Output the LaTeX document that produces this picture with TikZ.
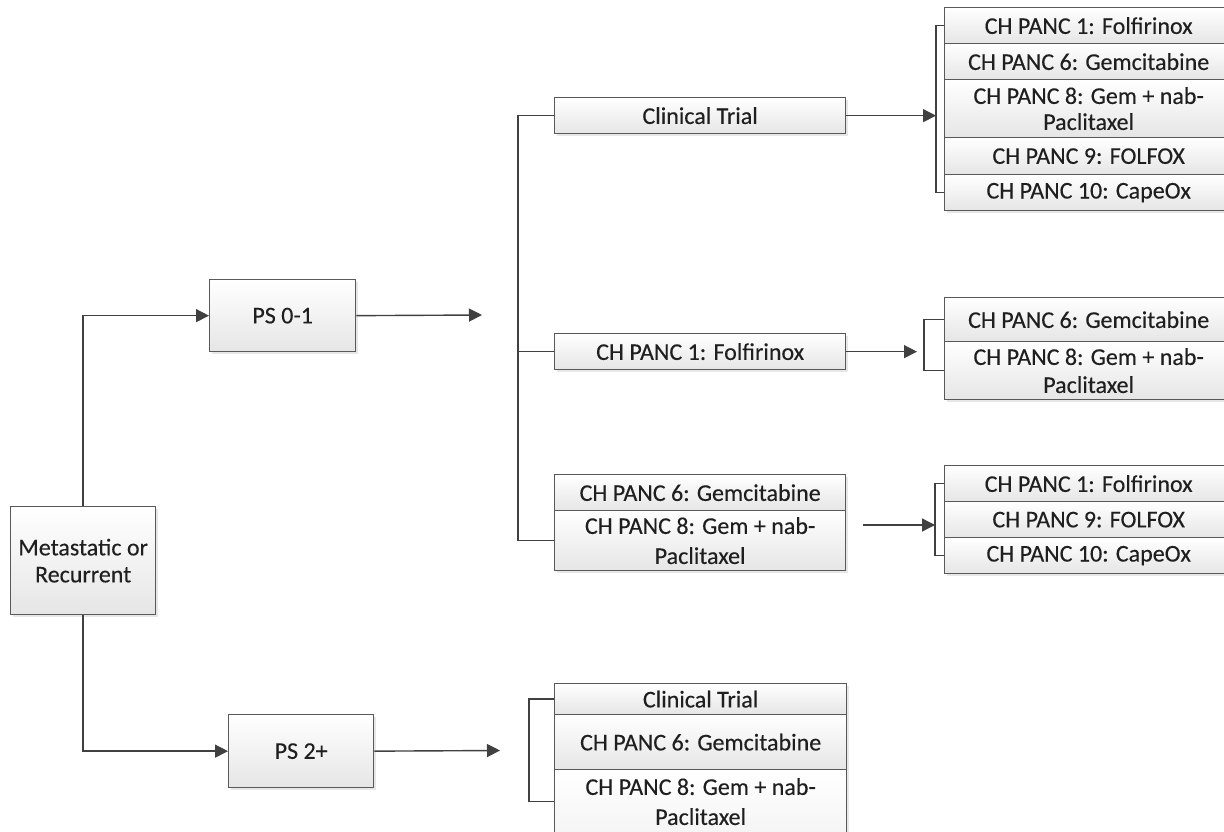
\documentclass[tikz,border=0pt]{standalone}
\usepackage{fontspec}
\setmainfont{Carlito}[FakeBold=0.25]
\usetikzlibrary{arrows.meta,shadows}
\definecolor{linec}{HTML}{404040}
\definecolor{boxc}{HTML}{595959}
\definecolor{txtc}{HTML}{1f1f1f}
\begin{document}
\begin{tikzpicture}[x=1pt,y=-1pt,
  box/.style={draw=boxc, line width=1.3pt, top color=white, bottom color=black!10,
    drop shadow={shadow xshift=2pt, shadow yshift=-2pt, fill=black!18},
    anchor=north west, inner sep=0pt, align=center, text=txtc,
    font=\fontsize{24}{27}\selectfont},
  conn/.style={draw=linec, line width=1.4pt},
  arr/.style={conn, -{Triangle[length=13pt,width=13pt]}}]
\useasboundingbox (0,0) rectangle (1224,832);
\fill[white] (0,0) rectangle (1224,832);

% left
\node[box, minimum width=145pt, minimum height=108pt] (meta) at (10,506) {Metastatic or\\[0pt]Recurrent};
\node[box, minimum width=146pt, minimum height=72pt] (ps01) at (209,279) {PS 0-1};
\node[box, minimum width=145pt, minimum height=73pt] (ps2) at (228,714) {PS 2+};

% middle column
\node[box, minimum width=291pt, minimum height=36pt] (ct) at (554,97) {Clinical Trial};
\node[box, minimum width=291pt, minimum height=36pt] (f1) at (554,333) {CH PANC 1: Folfirinox};
\node[box, minimum width=291pt, minimum height=36pt] (g6a) at (554,474) {CH PANC 6: Gemcitabine};
\node[box, minimum width=291pt, minimum height=60pt] (g8a) at (554,510) {CH PANC 8: Gem + nab-\\[3pt]Paclitaxel};

% group 1
\node[box, minimum width=288pt, minimum height=36pt] (r1) at (944,7) {CH PANC 1: Folfirinox};
\node[box, minimum width=288pt, minimum height=36pt] (r2) at (944,43) {CH PANC 6: Gemcitabine};
\node[box, minimum width=288pt, minimum height=58pt] (r3) at (944,79) {CH PANC 8: Gem + nab-\\[-1pt]Paclitaxel};
\node[box, minimum width=288pt, minimum height=37pt] (r4) at (944,137) {CH PANC 9: FOLFOX};
\node[box, minimum width=288pt, minimum height=36pt] (r5) at (944,174) {CH PANC 10: CapeOx};

% group 2
\node[box, minimum width=288pt, minimum height=44pt] (s1) at (944,297) {CH PANC 6: Gemcitabine};
\node[box, minimum width=288pt, minimum height=58pt] (s2) at (944,341) {CH PANC 8: Gem + nab-\\[1pt]Paclitaxel};

% group 3
\node[box, minimum width=288pt, minimum height=36pt] (t1) at (944,465) {CH PANC 1: Folfirinox};
\node[box, minimum width=288pt, minimum height=36pt] (t2) at (944,501) {CH PANC 9: FOLFOX};
\node[box, minimum width=288pt, minimum height=36pt] (t3) at (944,537) {CH PANC 10: CapeOx};

% group 4
\node[box, minimum width=292pt, minimum height=31pt] (u1) at (554,683) {Clinical Trial};
\node[box, minimum width=292pt, minimum height=55pt] (u2) at (554,714) {CH PANC 6: Gemcitabine};
\node[box, minimum width=292pt, minimum height=64pt, top color=white, bottom color=black!4] (u3) at (554,769) {CH PANC 8: Gem + nab-\\[3pt]Paclitaxel};

% coordinates
\coordinate (bx) at (518,0);
\coordinate (b1) at (936,0);
\coordinate (b2) at (924,0);
\coordinate (b3) at (935,0);
\coordinate (b4) at (529,0);
\coordinate (a1) at (482,315);
\coordinate (a2) at (500,750.5);
\coordinate (a3s) at (863,525);

% connectors left
\draw[arr] (meta.north) |- (ps01.west);
\draw[arr] (meta.south) |- (ps2.west);
\draw[arr] (ps01.east) -- (a1);
\draw[arr] (ps2.east) -- (a2);

% main bracket
\draw[conn] (ct.west) -- (ct.west -| bx) -- (g8a.west -| bx) -- (g8a.west);
\draw[conn] (f1.west) -- (f1.west -| bx);

% group brackets
\draw[conn] (r1.west) -- (r1.west -| b1) -- (r5.west -| b1) -- (r5.west);
\draw[conn] (s1.west) -- (s1.west -| b2) -- (s2.west -| b2) -- (s2.west);
\draw[conn] (t1.west) -- (t1.west -| b3) -- (t3.west -| b3) -- (t3.west);
\draw[conn] (u1.west) -- (u1.west -| b4) -- (u3.west -| b4) -- (u3.west);

% arrows into groups
\draw[arr] (ct.east) -- (ct.east -| b1);
\draw[arr] (f1.east) -- (f1.east -| 917,0);
\draw[arr] (a3s) -- (a3s -| b3);
\end{tikzpicture}
\end{document}
